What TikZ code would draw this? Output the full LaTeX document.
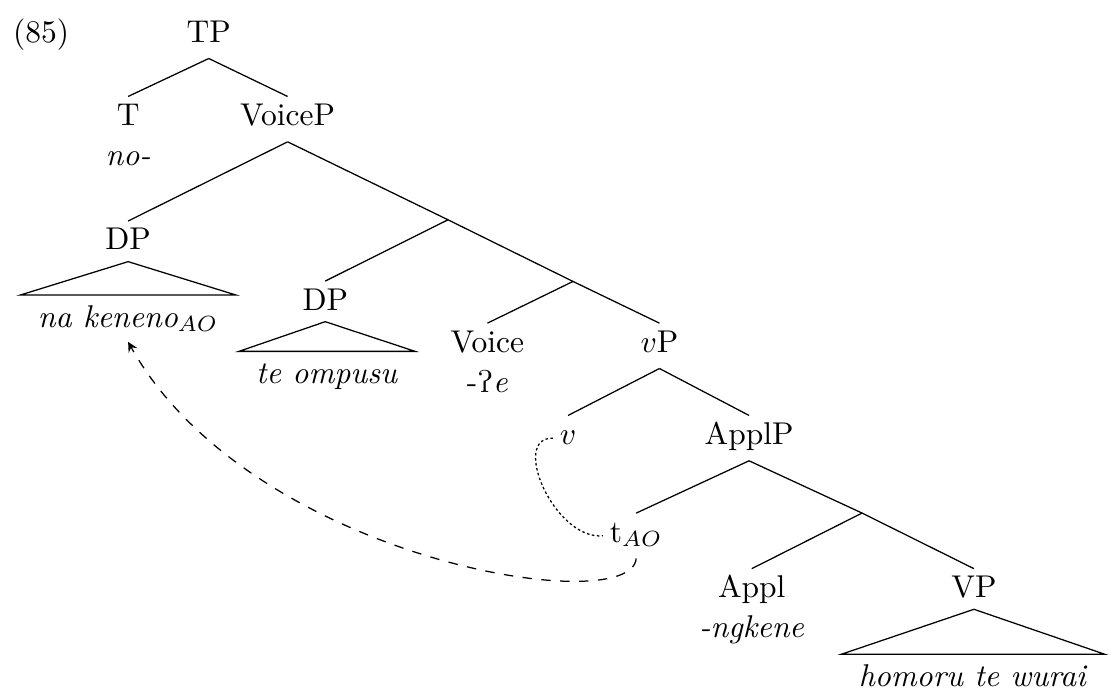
\documentclass[tikz,border=0pt]{standalone}
\usepackage{tipa}
\begin{document}
\begin{tikzpicture}[
    cat/.style={anchor=base, inner sep=2pt, text height=7pt, text depth=3pt},
    gl/.style={anchor=base, inner sep=2pt},
    tri/.style={anchor=base, inner xsep=5.3pt, inner ysep=3pt, text height=7pt, text depth=1.5pt},
  ]
    \useasboundingbox (0,0) rectangle (12.5,7.78);
    \node[anchor=base] (ex) at (0.46,7.31) {(85)};
    \node[cat] (TP) at (2.33,7.31) {TP};
    \node[cat] (T) at (1.43,6.38) {T};
    \node[cat] (VoiceP) at (3.21,6.38) {VoiceP};
    \node[gl] (Tg) at ([yshift=-12.7pt]T.base) {\textit{no-}};
    \node[cat] (DPa) at (1.43,4.99) {DP};
    \node[cat] (DPb) at (3.63,4.32) {DP};
    \node[cat] (Voice) at (5.44,3.85) {Voice};
    \node[gl] (Voiceg) at ([yshift=-12.7pt]Voice.base) {-\textglotstop\textit{e}};
    \node[cat] (vP) at (7.36,3.85) {$v$P};
    \node[cat] (v) at (6.34,2.82) {$v$};
    \node[cat] (ApplP) at (8.36,2.82) {ApplP};
    \node[cat] (tAO) at (7.10,1.73) {t$_{AO}$};
    \node[cat] (Appl) at (8.39,1.11) {Appl};
    \node[gl] (Applg) at ([yshift=-12.7pt]Appl.base) {\textit{-ngkene}};
    \node[cat] (VP) at (10.87,1.11) {VP};
    \node[tri] (nak) at (1.43,4.13) {\textit{na keneno}$_{AO}$};
    \node[tri] (tom) at (3.65,3.50) {\textit{te ompusu}};
    \node[tri] (hom) at (10.86,0.12) {\textit{homoru te wurai}};
    \coordinate (X1) at (5.0,5.327);
    \coordinate (X2) at (6.395,4.639);
    \coordinate (X3) at (9.621,2.054);

    \path[draw] (TP.south) -- (T.north);
    \path[draw] (TP.south) -- (VoiceP.north);
    \path[draw] (VoiceP.south) -- (DPa.north);
    \path[draw] (VoiceP.south) -- (X1) -- (X2) -- (vP.north);
    \path[draw] (X1) -- (DPb.north);
    \path[draw] (X2) -- (Voice.north);
    \path[draw] (vP.south) -- (v.north);
    \path[draw] (vP.south) -- (ApplP.north);
    \path[draw] (ApplP.south) -- (tAO.north);
    \path[draw] (ApplP.south) -- (X3);
    \path[draw] (X3) -- (Appl.north);
    \path[draw] (X3) -- (VP.north);

    \path[draw] ([yshift=1.5pt]DPa.south) -- (nak.north east) -- (nak.north west) -- cycle;
    \path[draw] ([yshift=1.5pt]DPb.south) -- (tom.north east) -- (tom.north west) -- cycle;
    \path[draw] ([yshift=1.5pt]VP.south) -- (hom.north east) -- (hom.north west) -- cycle;

    \path[draw,dash pattern=on 0.8pt off 0.8pt] (v.west) .. controls (5.69,2.90) and (6.19,1.75) .. (tAO.west);
    \path[draw,dashed,-stealth] (tAO.south) .. controls (7.05,0.86) and (2.79,1.53) .. (nak.south);
\end{tikzpicture}
\end{document}
